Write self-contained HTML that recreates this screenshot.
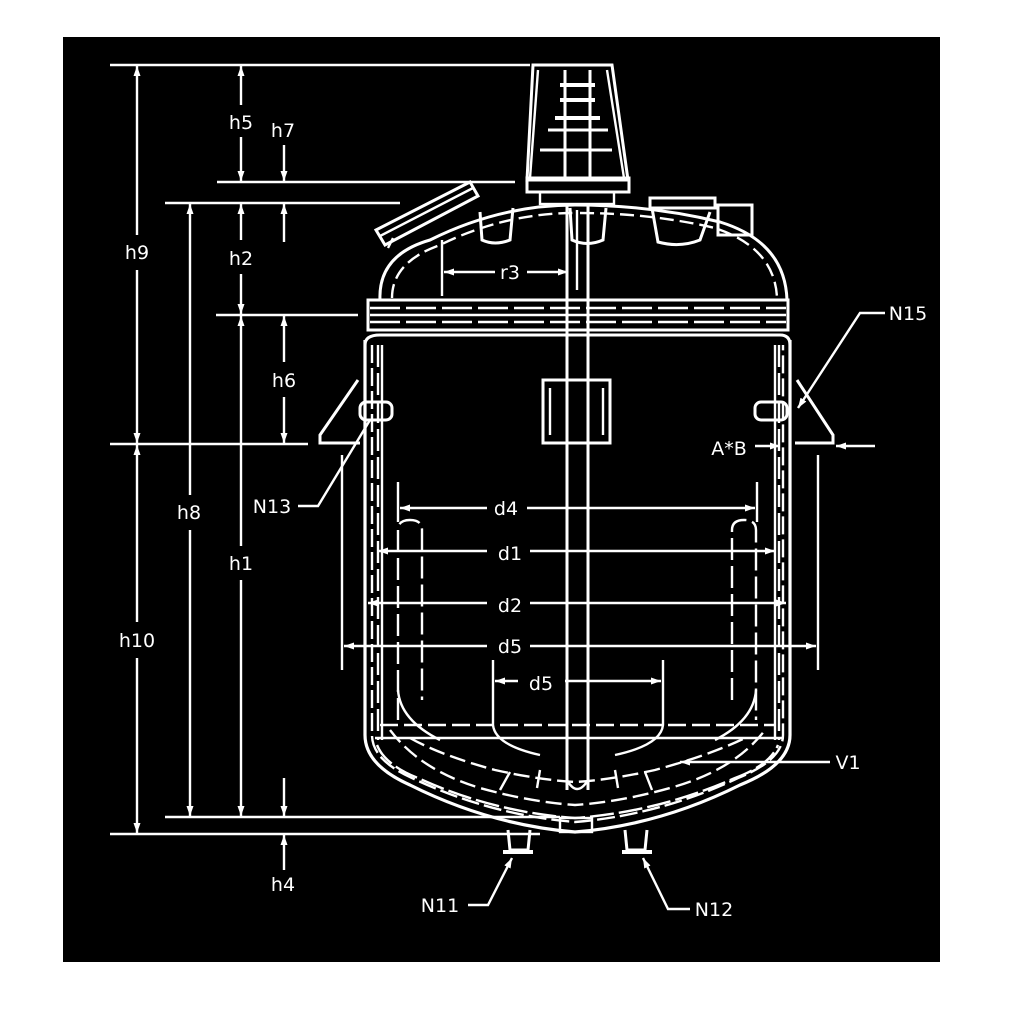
<!DOCTYPE html>
<html><head><meta charset="utf-8"><style>
html,body{margin:0;padding:0;background:#fff;}
svg{display:block;}
text{font-family:"DejaVu Sans","Liberation Sans",sans-serif;font-size:19px;fill:#fff;}
</style></head><body>
<svg width="1024" height="1024" viewBox="0 0 1024 1024" xmlns="http://www.w3.org/2000/svg">
<defs>
<marker id="a" viewBox="0 0 10 10" refX="10" refY="5" markerWidth="10" markerHeight="10" markerUnits="userSpaceOnUse" orient="auto-start-reverse"><path d="M0,1.5 L10,5 L0,8.5 Z" fill="#fff"/></marker>
</defs>
<rect x="63" y="37" width="877" height="925" fill="#000"/>
<g stroke="#fff" stroke-width="2.4" fill="none">
<line x1="110" y1="65" x2="530" y2="65"/>
<line x1="217" y1="182" x2="515" y2="182"/>
<line x1="165" y1="203" x2="400" y2="203"/>
<line x1="216" y1="315" x2="358" y2="315"/>
<line x1="110" y1="444" x2="308" y2="444"/>
<line x1="165" y1="817" x2="560" y2="817"/>
<line x1="110" y1="834" x2="540" y2="834"/>
<line x1="137" y1="66" x2="137" y2="235" marker-start="url(#a)"/>
<line x1="137" y1="270" x2="137" y2="443" marker-end="url(#a)"/>
<line x1="137" y1="445" x2="137" y2="622" marker-start="url(#a)"/>
<line x1="137" y1="658" x2="137" y2="833" marker-end="url(#a)"/>
<line x1="241" y1="66" x2="241" y2="105" marker-start="url(#a)"/>
<line x1="241" y1="137" x2="241" y2="181" marker-end="url(#a)"/>
<line x1="284" y1="145" x2="284" y2="181" marker-end="url(#a)"/>
<line x1="284" y1="242" x2="284" y2="204" marker-end="url(#a)"/>
<line x1="241" y1="204" x2="241" y2="240" marker-start="url(#a)"/>
<line x1="241" y1="274" x2="241" y2="314" marker-end="url(#a)"/>
<line x1="284" y1="316" x2="284" y2="362" marker-start="url(#a)"/>
<line x1="284" y1="397" x2="284" y2="443" marker-end="url(#a)"/>
<line x1="190" y1="204" x2="190" y2="495" marker-start="url(#a)"/>
<line x1="190" y1="530" x2="190" y2="816" marker-end="url(#a)"/>
<line x1="241" y1="316" x2="241" y2="546" marker-start="url(#a)"/>
<line x1="241" y1="580" x2="241" y2="816" marker-end="url(#a)"/>
<line x1="284" y1="778" x2="284" y2="816" marker-end="url(#a)"/>
<line x1="284" y1="870" x2="284" y2="835" marker-end="url(#a)"/>
<path d="M533,65 L612,65 L628,180 L527,180 Z" stroke-width="3"/>
<line x1="538" y1="70" x2="530" y2="178"/>
<line x1="607" y1="70" x2="624" y2="178"/>
<line x1="565" y1="70" x2="565" y2="180" stroke-width="3"/>
<line x1="590" y1="70" x2="590" y2="180" stroke-width="3"/>
<line x1="560" y1="85" x2="595" y2="85" stroke-width="4"/>
<line x1="560" y1="100" x2="595" y2="100" stroke-width="4"/>
<line x1="555" y1="118" x2="600" y2="118" stroke-width="4"/>
<line x1="548" y1="130" x2="608" y2="130" stroke-width="3"/>
<line x1="540" y1="150" x2="612" y2="150" stroke-width="3"/>
<rect x="527" y="178" width="102" height="14" stroke-width="3"/>
<rect x="540" y="192" width="74" height="12" stroke-width="2.4"/>
<path d="M380,300 Q378,255 430,240 Q500,205 575,205 Q650,205 720,222 Q785,242 787,300" stroke-width="3"/>
<path d="M392,298 Q392,262 440,245 Q505,213 575,213" stroke-dasharray="14,6"/>
<path d="M580,213 Q650,213 715,228 Q775,248 777,298" stroke-dasharray="14,6"/>
<path d="M376,230 L470,182 L478,196 L385,245 Z" stroke-width="3"/>
<line x1="380" y1="236" x2="473" y2="188"/>
<line x1="388" y1="248" x2="393" y2="238"/>
<path d="M480,212 L482,240 Q495,246 510,240 L513,208" stroke-width="3"/>
<path d="M570,208 L572,240 Q587,247 603,240 L606,208" stroke-width="3"/>
<path d="M652,208 L658,242 Q680,248 700,240 L710,212" stroke-width="3"/>
<rect x="650" y="198" width="65" height="10" stroke-width="3"/>
<rect x="718" y="205" width="34" height="30" stroke-width="3"/>
<line x1="442" y1="240" x2="442" y2="296"/>
<line x1="495" y1="272" x2="444" y2="272" marker-end="url(#a)"/>
<line x1="527" y1="272" x2="568" y2="272" marker-end="url(#a)"/>
<rect x="368" y="300" width="420" height="30" stroke-width="3"/>
<line x1="370" y1="308" x2="786" y2="308" stroke-dasharray="30,6"/>
<line x1="370" y1="315" x2="786" y2="315"/>
<line x1="370" y1="322" x2="786" y2="322" stroke-dasharray="30,6"/>
<path d="M365,345 Q365,335 380,335 L780,335 Q790,335 790,345" stroke-width="3"/>
<path d="M365,340 L365,735 Q365,765 410,785 Q490,825 575,832 Q660,825 740,785 Q790,765 790,735 L790,340" stroke-width="3.2"/>
<path d="M372,345 L372,735 Q372,760 412,778 Q490,815 575,822 Q660,815 738,778 Q783,760 783,735 L783,345" stroke-dasharray="18,5"/>
<path d="M377,745 Q385,765 418,778 Q492,812 575,818 Q658,812 735,778 Q770,765 778,745" stroke-dasharray="24,5"/>
<path d="M382,345 L382,740"/>
<path d="M775,345 L775,740"/>
<path d="M378,345 L378,740" stroke-dasharray="22,6"/>
<path d="M779,345 L779,740" stroke-dasharray="22,6"/>
<line x1="375" y1="738" x2="782" y2="738"/>
<line x1="380" y1="725" x2="775" y2="725" stroke-dasharray="18,6"/>
<path d="M390,730 Q420,770 480,788 Q530,802 575,805 Q620,802 670,788 Q735,770 765,730" stroke-dasharray="16,6"/>
<path d="M410,738 Q440,755 495,770 Q540,780 575,782 Q610,780 655,770 Q710,755 745,738" stroke-dasharray="16,6"/>
<path d="M398,720 L398,530 Q398,520 410,520 Q422,520 422,530 L422,700" stroke-dasharray="22,6"/>
<path d="M732,700 L732,530 Q732,520 744,520 Q756,520 756,530 L756,720" stroke-dasharray="22,6"/>
<path d="M398,690 Q400,720 440,740"/><path d="M756,690 Q754,720 715,740"/>
<line x1="567" y1="205" x2="567" y2="790" stroke-width="3"/>
<line x1="588" y1="205" x2="588" y2="790" stroke-width="3"/>
<path d="M567,780 Q577,798 588,780"/>
<line x1="577" y1="210" x2="577" y2="290"/>
<rect x="543" y="380" width="67" height="63" stroke-width="3"/>
<line x1="550" y1="388" x2="550" y2="435"/><line x1="603" y1="388" x2="603" y2="435"/>
<path d="M493,660 L493,725 Q495,745 540,755"/>
<path d="M663,660 L663,725 Q661,745 615,755"/>
<path d="M510,772 L500,790 M540,770 L537,788 M615,770 L618,788 M645,772 L652,790"/>
<path d="M358,380 L320,435 L320,443 L360,443" stroke-width="3"/>
<path d="M797,380 L833,435 L833,443 L795,443" stroke-width="3"/>
<rect x="360" y="402" width="32" height="18" rx="6" stroke-width="3"/>
<rect x="755" y="402" width="32" height="18" rx="6" stroke-width="3"/>
<path d="M508,830 L510,850 L528,850 L530,830" stroke-width="3"/>
<line x1="503" y1="852" x2="533" y2="852" stroke-width="4"/>
<path d="M625,830 L627,850 L645,850 L647,830" stroke-width="3"/>
<line x1="622" y1="852" x2="652" y2="852" stroke-width="4"/>
<rect x="560" y="818" width="32" height="14"/>
<line x1="398" y1="482" x2="398" y2="522"/>
<line x1="757" y1="482" x2="757" y2="522"/>
<line x1="487" y1="508" x2="400" y2="508" marker-end="url(#a)"/>
<line x1="527" y1="508" x2="755" y2="508" marker-end="url(#a)"/>
<line x1="487" y1="551" x2="378" y2="551" marker-end="url(#a)"/>
<line x1="530" y1="551" x2="775" y2="551" marker-end="url(#a)"/>
<line x1="487" y1="603" x2="368" y2="603" marker-end="url(#a)"/>
<line x1="530" y1="603" x2="786" y2="603" marker-end="url(#a)"/>
<line x1="342" y1="455" x2="342" y2="670"/>
<line x1="818" y1="455" x2="818" y2="670"/>
<line x1="487" y1="646" x2="344" y2="646" marker-end="url(#a)"/>
<line x1="530" y1="646" x2="816" y2="646" marker-end="url(#a)"/>
<line x1="518" y1="681" x2="495" y2="681" marker-end="url(#a)"/>
<line x1="565" y1="681" x2="661" y2="681" marker-end="url(#a)"/>
<path d="M298,506 L318,506 L370,420" />
<path d="M885,313 L860,313 L798,408" marker-end="url(#a)"/>
<line x1="755" y1="446" x2="780" y2="446" marker-end="url(#a)"/>
<line x1="875" y1="446" x2="836" y2="446" marker-end="url(#a)"/>
<line x1="830" y1="762" x2="680" y2="762" marker-end="url(#a)"/>
<path d="M468,905 L488,905 L512,858" marker-end="url(#a)"/>
<path d="M690,909 L668,909 L643,858" marker-end="url(#a)"/>
</g>
<g>
<text x="137" y="259" text-anchor="middle">h9</text>
<text x="137" y="647" text-anchor="middle">h10</text>
<text x="241" y="129" text-anchor="middle">h5</text>
<text x="283" y="137" text-anchor="middle">h7</text>
<text x="241" y="265" text-anchor="middle">h2</text>
<text x="284" y="387" text-anchor="middle">h6</text>
<text x="189" y="519" text-anchor="middle">h8</text>
<text x="241" y="570" text-anchor="middle">h1</text>
<text x="283" y="891" text-anchor="middle">h4</text>
<text x="510" y="279" text-anchor="middle">r3</text>
<text x="908" y="320" text-anchor="middle">N15</text>
<text x="729" y="455" text-anchor="middle">A*B</text>
<text x="272" y="513" text-anchor="middle">N13</text>
<text x="506" y="515" text-anchor="middle">d4</text>
<text x="510" y="560" text-anchor="middle">d1</text>
<text x="510" y="612" text-anchor="middle">d2</text>
<text x="510" y="653" text-anchor="middle">d5</text>
<text x="541" y="690" text-anchor="middle">d5</text>
<text x="848" y="769" text-anchor="middle">V1</text>
<text x="440" y="912" text-anchor="middle">N11</text>
<text x="714" y="916" text-anchor="middle">N12</text>
</g>
</svg>
</body></html>
